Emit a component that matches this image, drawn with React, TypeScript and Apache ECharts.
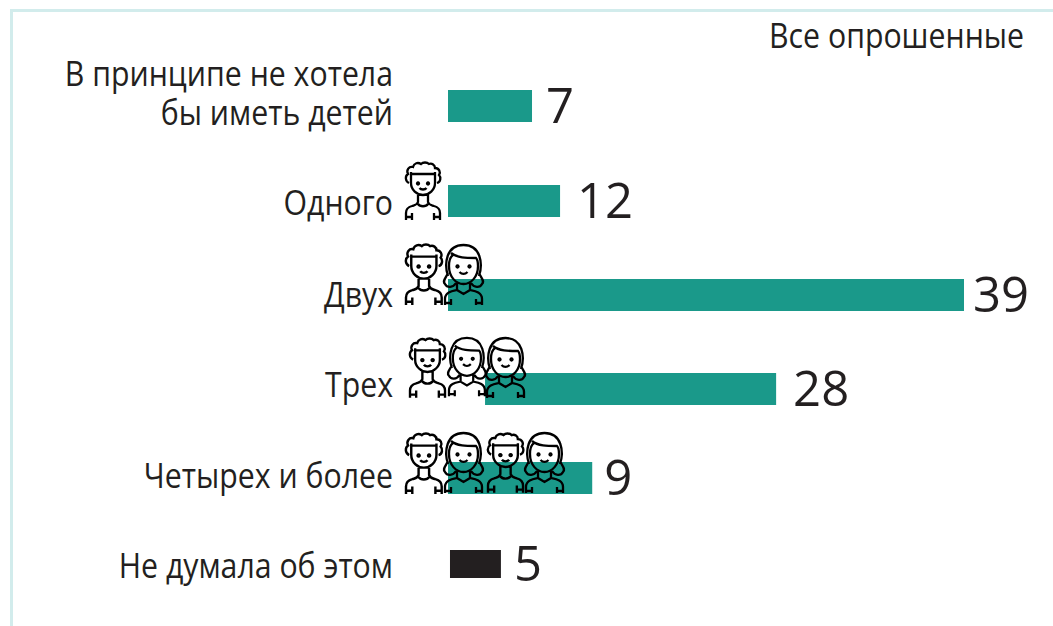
import React, { useEffect, useRef } from "react";
import * as echarts from "echarts";

const categories = ["В принципе не хотела\nбы иметь детей", "Одного", "Двух", "Трех", "Четырех и более", "Не думала об этом"];
const values = [7, 12, 39, 28, 9, 5];
// bar extents as drawn in the picture, in axis units (39 = full bar)
const barStart = [0, 0, 0, 2.8, 0, 0.15];
const barEnd = [6.35, 8.47, 39, 24.8, 10.9, 4.0];
const rowCentre = [106, 201, 295, 389, 478, 564];
const rowLabelCentre = [92, 202, 294, 384, 475, 565];
const barThick = [32, 32, 32, 32, 32, 28];
const numGap = [14, 17, 9, 17, 12, 13];
const barColors = ["#1a998a", "#1a998a", "#1a998a", "#1a998a", "#1a998a", "#231f20"];

const BOY =
  "M3 21 C-1 19 -1 14 2 12 C0 8 3 4 7 5 C8 1 12 0 15 2 C17 0 21 0 23 2 C26 1 29 3 29 6 C33 6 35 10 33 13 C35 15 35 20 31 21 " +
  "M5 12 C10 12 24 12 29 12 M5 10 V21 C5 28 11 33 17 33 C23 33 29 28 29 21 V10 " +
  "M12 20.5 a1 1 0 1 0 .01 0 M22 20.5 a1 1 0 1 0 .01 0 M13.5 26 C15 28 19 28 20.5 26 " +
  "M12 32 V40 C11 43 9 43 6 44 C2 45 0 47 0 51 V58 M22 32 V40 C23 43 25 43 28 44 C32 45 34 47 34 51 V58 " +
  "M12 42 C14 45 20 45 22 42 M6 58 V51 M28 58 V51 M0 55 H6 M28 55 H34";
const GIRL =
  "M4 32 C0 20 2 1 19.5 1 C37 1 39 20 35 32 M4 29 C2 34 -2 37 1 40 C3 44 9 44 12 39 M35 29 C37 34 41 37 38 40 C36 44 30 44 27 39 " +
  "M5 22 C5 33 12 40 19.5 40 C27 40 34 33 34 22 C34 18 33 15 32 14 C22 14 13 14 7 9 M5 22 C5 17 6 13 9 11 " +
  "M13.5 21.5 a1 1 0 1 0 .01 0 M25.5 21.5 a1 1 0 1 0 .01 0 M15.5 28 C18 30.5 21 30.5 23.5 28 " +
  "M13 39 V46 L19.5 50 L26 46 V39 M13 46 C8 47 1 48 1 55 V61 M26 46 C31 47 38 48 38 55 V61 " +
  "M7 61 V55 M32 61 V55 M1 59 H7 M32 59 H38";
echarts.graphic.registerShape("boyIcon", echarts.graphic.extendPath(BOY, {}));
echarts.graphic.registerShape("girlIcon", echarts.graphic.extendPath(GIRL, {}));

const FONT = "'Open Sans'";
const INK = "#231f20";
const TEXT_SCALE = 0.89;
const iconPlacement: [string, number, number, number][] = [
  ["boyIcon", 406, 162, 1],
  ["boyIcon", 406, 244, 1.05],
  ["girlIcon", 444, 244, 1],
  ["boyIcon", 410, 338, 1.03],
  ["girlIcon", 448, 337, 0.97],
  ["girlIcon", 486, 337, 1],
  ["boyIcon", 406, 433, 1.05],
  ["girlIcon", 444, 432, 1],
  ["boyIcon", 488, 433, 1.03],
  ["girlIcon", 525, 432, 1],
];

export default function App() {
  const ref = useRef<HTMLDivElement>(null);
  useEffect(() => {
    const chart = echarts.init(ref.current!, null, { renderer: "svg" });
    const rows = categories.map((c, i) => [barStart[i], barEnd[i], rowCentre[i], values[i], c, i]);
    chart.setOption({
      animation: false,
      grid: { left: 448, right: 1053 - 964, top: 0, bottom: 0 },
      xAxis: { type: "value", min: 0, max: 39, show: false },
      yAxis: { type: "value", min: 0, max: 626, inverse: true, show: false },
      series: [
        {
          type: "custom",
          coordinateSystem: "cartesian2d",
          data: rows,
          encode: { x: [0, 1], y: 2 },
          silent: true,
          renderItem: (_: any, api: any) => {
            const i = api.value(5);
            const a = api.coord([api.value(0), api.value(2)]);
            const b = api.coord([api.value(1), api.value(2)]);
            const h = barThick[i];
            const labelY = api.coord([0, rowLabelCentre[i]])[1];
            return {
              type: "group",
              children: [
                {
                  type: "rect",
                  shape: { x: a[0], y: a[1] - h / 2, width: b[0] - a[0], height: h },
                  style: { fill: barColors[i] },
                },
                {
                  type: "text",
                  style: {
                    text: String(values[i]),
                    x: b[0] + numGap[i],
                    y: b[1] - 2,
                    align: "left",
                    verticalAlign: "middle",
                    fontFamily: FONT,
                    fontSize: 49,
                    fill: INK,
                  },
                },
                {
                  type: "text",
                  x: 393,
                  y: labelY,
                  scaleX: TEXT_SCALE,
                  style: {
                    text: categories[i],
                    x: 0,
                    y: 0,
                    align: "right",
                    verticalAlign: "middle",
                    fontFamily: FONT,
                    fontSize: 34,
                    lineHeight: 39,
                    fill: INK,
                  },
                },
              ],
            };
          },
        },
      ],
      graphic: [
        { type: "rect", shape: { x: 10, y: 9, width: 1043, height: 3 }, style: { fill: "#d2ecec" } },
        { type: "rect", shape: { x: 10, y: 9, width: 3, height: 617 }, style: { fill: "#d2ecec" } },
        {
          type: "text",
          x: 1024,
          y: 35,
          scaleX: TEXT_SCALE,
          style: { text: "Все опрошенные", x: 0, y: 0, align: "right", verticalAlign: "middle", fontFamily: FONT, fontSize: 34, fill: INK },
        },
        ...iconPlacement.map(([t, x, y, s]) => ({
          type: t,
          x,
          y,
          scaleX: s,
          scaleY: s,
          z: 20,
          style: { fill: "none", stroke: "#000", lineWidth: 2.3 },
        })),
      ],
    });
    return () => chart.dispose();
  }, []);
  return <div ref={ref} style={{ position: "fixed", left: 0, top: 0, width: 1053, height: 626, background: "#fff" }} />;
}
